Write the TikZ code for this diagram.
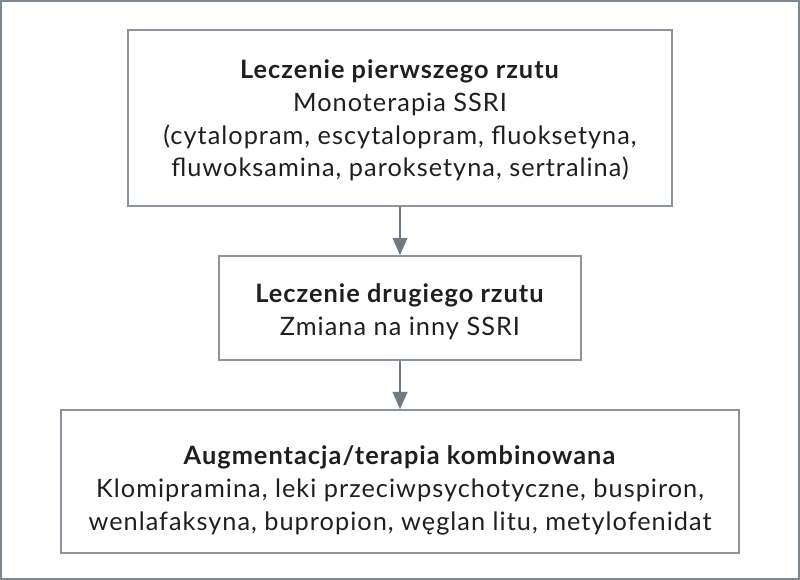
\documentclass[tikz,border=0pt]{standalone}
\usepackage{fontspec}
\setmainfont{Lato}[LetterSpace=4]
\usepackage{tikz}
\usetikzlibrary{arrows.meta}
\definecolor{framegrey}{HTML}{7D8790}
\definecolor{boxgrey}{HTML}{8C959D}
\definecolor{arrowgrey}{HTML}{6E7A84}

\begin{document}
\begin{tikzpicture}[x=0.75pt,y=0.75pt,yscale=-1,xscale=1,
    stepbox/.style={draw=boxgrey, line width=1.1pt, inner sep=0pt},
    steptext/.style={align=center, inner sep=0pt, font=\fontsize{19}{24.5}\selectfont, text=black!88},
    flow/.style={draw=arrowgrey, line width=1.5pt, -{Triangle[length=13pt,width=11pt]}}]
    \useasboundingbox (0,0) rectangle (800,580);
    %Outer frame
    \draw [framegrey, line width=1.6pt] (1,1) rectangle (799,579);
    % First line box
    \node [stepbox, minimum width=408pt, minimum height=132pt] (first) at (400,118) {};
    \node [steptext] (firsttext) at (400,120.5)
      {\textbf{Leczenie pierwszego rzutu}\\ Monoterapia SSRI\\ (cytalopram, escytalopram, fluoksetyna,\\ fluwoksamina, paroksetyna, sertralina)};
    % Second line box
    \node [stepbox, minimum width=271.5pt, minimum height=78pt] (second) at (400,308) {};
    \node [steptext] (secondtext) at (400,312)
      {\textbf{Leczenie drugiego rzutu}\\ Zmiana na inny SSRI};
    % Augmentation box
    \node [stepbox, minimum width=508.5pt, minimum height=107.25pt] (third) at (400,481.5) {};
    \node [steptext] (thirdtext) at (400,490.5)
      {\textbf{Augmentacja/terapia kombinowana}\\ Klomipramina, leki przeciwpsychotyczne, buspiron,\\ wenlafaksyna, bupropion, węglan litu, metylofenidat};
    %Arrows
    \draw [flow] (first) -- (second);
    \draw [flow] (second) -- (third);
\end{tikzpicture}
\end{document}
